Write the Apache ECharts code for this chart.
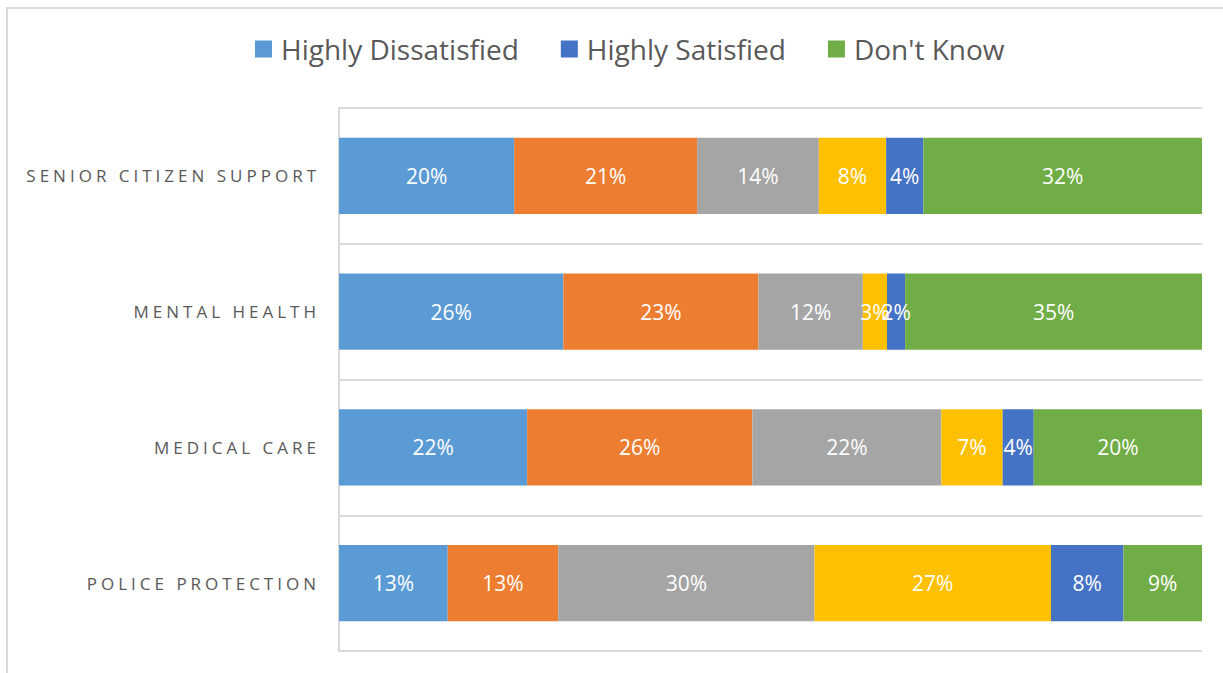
<!DOCTYPE html>
<html>
<head>
<meta charset="utf-8">
<script src="https://cdn.jsdelivr.net/npm/echarts@6/dist/echarts.min.js"></script>
<style>html,body{margin:0;padding:0;background:#fff;}#c{width:1223px;height:673px;}</style>
</head>
<body>
<div id="c"></div>
<script>
const categories = ['SENIOR CITIZEN SUPPORT', 'MENTAL HEALTH', 'MEDICAL CARE', 'POLICE PROTECTION'];
const seriesNames = ['Highly Dissatisfied', 'Dissatisfied', 'Neutral', 'Satisfied', 'Highly Satisfied', "Don't Know"];
const legendNames = ['Highly Dissatisfied', 'Highly Satisfied', "Don't Know"];
const colors = ['#5B9BD5', '#ED7D31', '#A5A5A5', '#FFC000', '#4472C4', '#70AD47'];
const highlyDissatisfied = [20.3, 26.0, 21.8, 12.6];
const dissatisfied = [21.2, 22.6, 26.1, 12.8];
const neutral = [14.1, 12.1, 21.9, 29.7];
const satisfied = [7.8, 2.8, 7.1, 27.4];
const highlySatisfied = [4.3, 2.1, 3.6, 8.4];
const dontKnow = [32.3, 34.5, 19.5, 9.1];
const values = [highlyDissatisfied, dissatisfied, neutral, satisfied, highlySatisfied, dontKnow];

const chart = echarts.init(document.getElementById('c'), null, {renderer: 'svg'});
const font = '"Open Sans", "Noto Sans", sans-serif';
chart.setOption({
  animation: false,
  color: colors,
  graphic: [{
    type: 'rect', silent: true, z: -10,
    shape: {x: 7, y: 8, width: 1240, height: 700},
    style: {fill: 'none', stroke: '#d9d9d9', lineWidth: 2}
  }],
  legend: {
    data: legendNames,
    top: 30,
    left: 250,
    icon: 'rect',
    itemWidth: 17,
    itemHeight: 17,
    itemGap: 42,
    textStyle: {fontSize: 28, color: '#595959', fontFamily: font, padding: [0, 0, 0, 4]}
  },
  grid: {left: 339, right: 21, top: 108, bottom: 22, containLabel: false},
  xAxis: {
    type: 'value', min: 0, max: 100,
    axisLabel: {show: false}, axisLine: {show: false}, axisTick: {show: false}, splitLine: {show: false}
  },
  yAxis: {
    type: 'category', data: categories, inverse: true,
    axisLine: {show: true, lineStyle: {color: '#d9d9d9', width: 2}},
    axisTick: {show: false},
    splitLine: {show: true, lineStyle: {color: '#d9d9d9', width: 2}},
    axisLabel: {fontSize: 17, color: '#595959', fontFamily: font, margin: 19}
  },
  series: seriesNames.map((name, i) => ({
    name: name,
    type: 'bar',
    stack: 'total',
    barWidth: '56%',
    data: values[i],
    label: {
      show: true, position: 'inside', color: '#ffffff', fontSize: 21, fontFamily: font,
      formatter: p => Math.round(p.value) + '%'
    }
  }))
});
function spaceLabels() {
  document.querySelectorAll('#c svg text').forEach(t => {
    if (categories.indexOf(t.textContent.trim()) >= 0) {
      t.setAttribute('letter-spacing', '4');
    }
  });
}
chart.on('finished', spaceLabels);
spaceLabels();
setTimeout(spaceLabels, 50);
</script>
</body>
</html>
